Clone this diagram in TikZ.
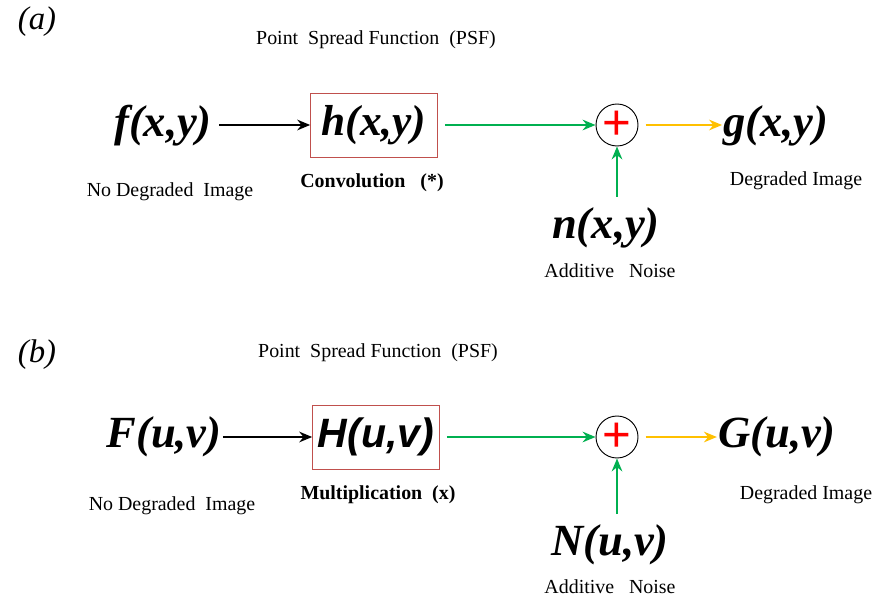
\documentclass[tikz,border=0pt]{standalone}
\usepackage{fontspec}
\setmainfont{Liberation Serif}
\setsansfont{Liberation Sans}
\usetikzlibrary{arrows.meta,positioning}
\definecolor{sumgreen}{RGB}{0,176,80}
\definecolor{outyellow}{RGB}{255,192,0}
\definecolor{boxred}{RGB}{192,80,77}

\begin{document}
\begin{tikzpicture}[
  x=0.03cm, y=-0.03cm,
  panel/.style={font=\fontsize{28}{30}\selectfont\itshape, anchor=center},
  caption/.style={font=\fontsize{17}{20}\selectfont, anchor=center},
  boldcap/.style={font=\fontsize{17}{20}\selectfont\bfseries, anchor=center},
  bigvar/.style={font=\fontsize{38}{40}\selectfont\bfseries\itshape,
                 inner sep=1pt},
  psfbox/.style={draw=boxred, line width=0.8pt,
                 minimum width=3.8cm, minimum height=1.92cm,
                 font=\fontsize{37}{40}\selectfont\bfseries\itshape},
  summer/.style={draw, circle, line width=0.8pt, minimum size=1.26cm,
                 inner sep=0pt, text=red,
                 font=\fontsize{42}{42}\selectfont\sffamily},
  flow/.style={-{Stealth[length=11pt, width=9pt]}, line width=2pt},
]
\useasboundingbox (0,0) rectangle (877,599);

% Panel (a)
\node[panel]   (laba) at (37,22)   {(a)};
\node[caption] (psfa) at (376,40)  {Point \ Spread Function \ (PSF)};
\node[bigvar]  (fa)   at (163,126) {f(x,y)};
\node[psfbox]  (ha)   at (374,125) {h(x,y)};
\node[summer]  (sa)   at (617,125) {+};
\node[bigvar]  (ga)   at (776,126) {g(x,y)};
\node[bigvar]  (na)   at (606,228) {n(x,y)};
\node[caption] (ina)  at (170,192) {No Degraded \ Image};
\node[boldcap] (opa)  at (372,183) {Convolution \ \ (*)};
\node[caption] (oua)  at (796,181) {Degraded Image};
\node[caption] (noa)  at (610,271) {Additive \ \ Noise};

\draw[flow, shorten <=5pt] (fa.east |- ha.west) -- (ha.west);
\draw[flow, sumgreen, shorten <=6pt] (ha.east) -- (sa.west);
\draw[flow, outyellow, shorten <=6pt] (sa.east) -- (ga.west |- sa.east);
\draw[flow, sumgreen] (na.north -| sa.south) ++(0,8pt) -- (sa.south);

% Panel (b)
\node[panel]   (labb) at (37,355)  {(b)};
\node[caption] (psfb) at (378,353) {Point \ Spread Function \ (PSF)};
\node[bigvar]  (fb)   at (164,437) {F(u,v)};
\node[psfbox, font=\fontsize{35}{40}\selectfont\sffamily\bfseries\itshape]
               (hb)   at (376,437) {H(u,v)};
\node[summer]  (sb)   at (617,437) {+};
\node[bigvar]  (gb)   at (777,437) {G(u,v)};
\node[bigvar]  (nb)   at (610,545) {N(u,v)};
\node[caption] (inb)  at (172,506) {No Degraded \ Image};
\node[boldcap] (opb)  at (378,495) {Multiplication \ (x)};
\node[caption] (oub)  at (806,495) {Degraded Image};
\node[caption] (nob)  at (610,587) {Additive \ \ Noise};

\draw[flow] (fb.east) -- (hb.west);
\draw[flow, sumgreen, shorten <=6pt] (hb.east) -- (sb.west);
\draw[flow, outyellow, shorten <=6pt] (sb.east) -- (gb.west);
\draw[flow, sumgreen] (nb.north -| sb.south) ++(0,8pt) -- (sb.south);

\end{tikzpicture}
\end{document}
